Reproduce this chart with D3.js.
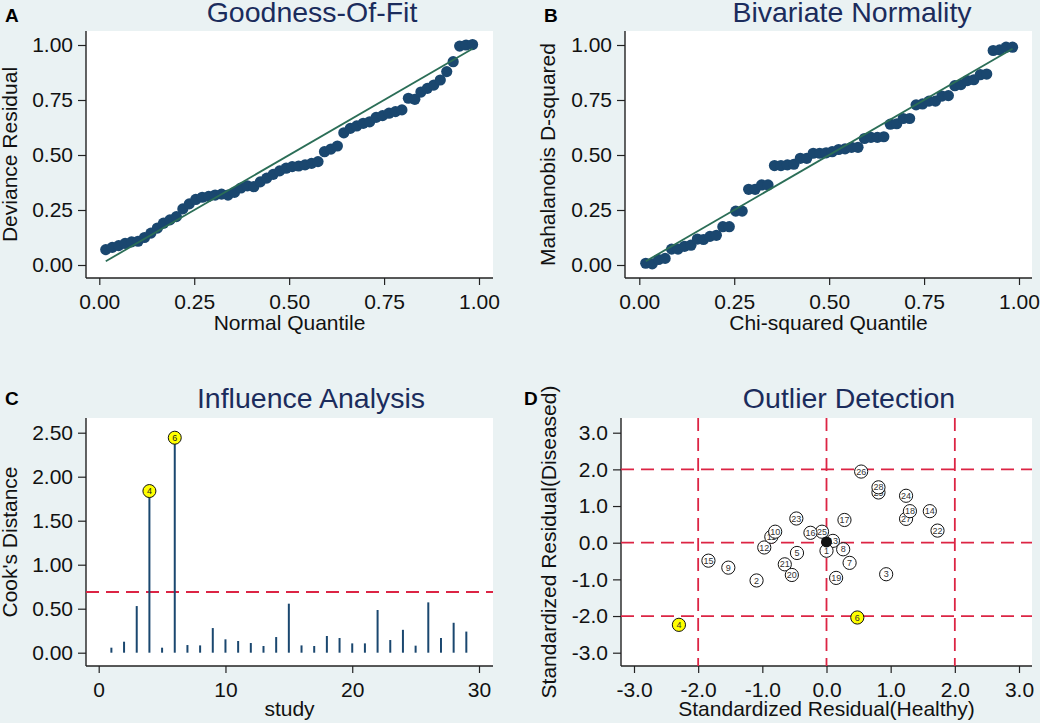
<!DOCTYPE html>
<html>
<head>
<meta charset="utf-8">
<script src="https://cdn.jsdelivr.net/npm/d3@7"></script>
<style>
  body { margin: 0; background: #eaf2f3; }
  svg { display: block; }
</style>
</head>
<body>
<script>
// ---- data ----
// plotting positions shared by panels A and B (58 residuals)
const quantiles = [0.017, 0.034, 0.051, 0.068, 0.085, 0.102, 0.119, 0.136, 0.153, 0.169,
  0.186, 0.203, 0.220, 0.237, 0.254, 0.271, 0.288, 0.305, 0.322, 0.339,
  0.356, 0.373, 0.390, 0.407, 0.424, 0.441, 0.458, 0.475, 0.492, 0.508,
  0.525, 0.542, 0.559, 0.576, 0.593, 0.610, 0.627, 0.644, 0.661, 0.678,
  0.695, 0.712, 0.729, 0.746, 0.763, 0.780, 0.797, 0.814, 0.831, 0.847,
  0.864, 0.881, 0.898, 0.915, 0.932, 0.949, 0.966, 0.983];
const devianceResidual = [0.070, 0.080, 0.088, 0.098, 0.105, 0.108, 0.125, 0.145, 0.168, 0.190,
  0.205, 0.220, 0.255, 0.278, 0.298, 0.308, 0.312, 0.318, 0.322, 0.318,
  0.330, 0.350, 0.360, 0.356, 0.378, 0.395, 0.412, 0.428, 0.440, 0.447,
  0.450, 0.455, 0.462, 0.470, 0.515, 0.527, 0.541, 0.601, 0.621, 0.632,
  0.644, 0.651, 0.671, 0.679, 0.690, 0.697, 0.705, 0.758, 0.753, 0.786,
  0.803, 0.818, 0.841, 0.879, 0.924, 0.995, 1.000, 1.002];
const mahalanobisD2 = [0.008, 0.005, 0.025, 0.030, 0.072, 0.072, 0.085, 0.090, 0.118, 0.116,
  0.130, 0.135, 0.174, 0.174, 0.245, 0.245, 0.344, 0.344, 0.364, 0.364,
  0.452, 0.452, 0.455, 0.458, 0.485, 0.485, 0.508, 0.508, 0.510, 0.515,
  0.525, 0.528, 0.535, 0.535, 0.575, 0.580, 0.580, 0.583, 0.640, 0.642,
  0.666, 0.666, 0.728, 0.732, 0.745, 0.745, 0.768, 0.770, 0.815, 0.820,
  0.838, 0.842, 0.865, 0.868, 0.975, 0.978, 0.990, 0.990];
const fitEnds = [0.017, 0.983];

const studies = [1, 2, 3, 4, 5, 6, 7, 8, 9, 10, 11, 12, 13, 14, 15, 16, 17, 18, 19, 20,
  21, 22, 23, 24, 25, 26, 27, 28, 29];
const cooksDistance = [0.057, 0.125, 0.530, 1.837, 0.057, 2.443, 0.087, 0.083, 0.280, 0.152,
  0.133, 0.110, 0.076, 0.178, 0.557, 0.083, 0.076, 0.190, 0.167, 0.106,
  0.106, 0.485, 0.144, 0.260, 0.080, 0.572, 0.167, 0.340, 0.240];
const cooksCut = 0.69;
const flagged = [4, 6];

const resHealthy = [0.00, -1.09, 0.93, -2.30, -0.46, 0.48, 0.36, 0.26, -1.53, -0.80,
  -0.86, -0.97, 0.10, 1.61, -1.84, -0.25, 0.28, 1.30, 0.15, -0.54,
  -0.65, 1.73, -0.47, 1.24, -0.07, 0.54, 1.24, 0.81, 0.81];
const resDiseased = [-0.22, -1.03, -0.86, -2.24, -0.28, -2.04, -0.55, -0.18, -0.68, 0.30,
  0.16, -0.13, 0.05, 0.86, -0.49, 0.27, 0.62, 0.86, -0.96, -0.88,
  -0.59, 0.33, 0.66, 1.28, 0.30, 1.94, 0.65, 1.51, 1.37];
const centre = [0.0, 0.02];
const refLines = [-2, 0, 2];

const ticksQ = [0, 0.25, 0.5, 0.75, 1];
const ticksStudy = [0, 10, 20, 30];
const ticksCook = [0, 0.5, 1, 1.5, 2, 2.5];
const ticksRes = [-3, -2, -1, 0, 1, 2, 3];

// ---- look ----
const font = 'Arial, "Liberation Sans", sans-serif';
const navy = '#1a476f';
const fitGreen = '#2b6e57';
const red = '#dc2444';
const titleCol = '#1b2c5c';

const svg = d3.select('body').append('svg').attr('width', 1040).attr('height', 723);
svg.append('rect').attr('width', 1040).attr('height', 723).attr('fill', '#eaf2f3');

// plot box + axes in Stata style (axis lines run the whole box edge)
function frame(box, x, y, xt, yt, xf, yf) {
  svg.append('rect').attr('x', box.l).attr('y', box.t)
     .attr('width', box.r - box.l).attr('height', box.b - box.t).attr('fill', '#fff');
  const ya = svg.append('g').attr('transform', `translate(${box.l},0)`)
     .call(d3.axisLeft(y).tickValues(yt).tickFormat(yf).tickSize(8).tickPadding(5));
  const xa = svg.append('g').attr('transform', `translate(0,${box.b})`)
     .call(d3.axisBottom(x).tickValues(xt).tickFormat(xf).tickSize(7).tickPadding(9));
  [ya, xa].forEach(a => {
    a.select('.domain').remove();
    a.attr('font-family', font).attr('font-size', 21);
    a.selectAll('text').attr('fill', '#111');
    a.selectAll('line').attr('stroke', '#222').attr('stroke-width', 1.2);
  });
  svg.append('line').attr('x1', box.l).attr('x2', box.l).attr('y1', box.t).attr('y2', box.b)
     .attr('stroke', '#222').attr('stroke-width', 1.4);
  svg.append('line').attr('x1', box.l).attr('x2', box.r).attr('y1', box.b).attr('y2', box.b)
     .attr('stroke', '#222').attr('stroke-width', 1.4);
}

function labels(letter, lx, ly, title, tx, ty, xTitle, xx, xy, yTitle, yx, yy) {
  svg.append('text').attr('x', lx).attr('y', ly).text(letter)
     .attr('font-family', font).attr('font-weight', 'bold').attr('font-size', 19).attr('fill', '#000');
  svg.append('text').attr('x', tx).attr('y', ty).text(title).attr('text-anchor', 'middle')
     .attr('font-family', font).attr('font-size', 28.5).attr('fill', titleCol);
  svg.append('text').attr('x', xx).attr('y', xy).text(xTitle).attr('text-anchor', 'middle')
     .attr('font-family', font).attr('font-size', 21).attr('fill', '#111');
  svg.append('text').attr('transform', `translate(${yx},${yy}) rotate(-90)`).text(yTitle)
     .attr('text-anchor', 'middle').attr('font-family', font).attr('font-size', 21).attr('fill', '#111');
}

// Stata prints a plain hyphen for negatives
const f2 = d => d3.format('.2f')(d).replace('\u2212', '-');
const f1 = d => d3.format('.1f')(d).replace('\u2212', '-');

// ---- A and B: quantile plots ----
function qqPanel(box, x0, x1, values, letter, title, tx, xTitle, yTitle, yTitleX) {
  const x = d3.scaleLinear().domain([0, 1]).range([x0, x1]);
  const y = d3.scaleLinear().domain([0, 1]).range([265, 45]);
  frame(box, x, y, ticksQ, ticksQ, f2, f2);
  svg.append('g').selectAll('circle').data(values).join('circle')
     .attr('cx', (d, i) => x(quantiles[i])).attr('cy', d => y(d)).attr('r', 5.6)
     .attr('fill', navy);
  svg.append('line').attr('x1', x(fitEnds[0])).attr('y1', y(fitEnds[0]))
     .attr('x2', x(fitEnds[1])).attr('y2', y(fitEnds[1]))
     .attr('stroke', fitGreen).attr('stroke-width', 1.8);
  labels(letter, box.l - 81, 22, title, tx, 22,
         xTitle, (box.l + box.r) / 2, 330, yTitle, yTitleX, (box.t + box.b) / 2);
}

qqPanel({l: 86, r: 493, t: 31, b: 278}, 99.3, 479, devianceResidual,
        'A', 'Goodness-Of-Fit', 312, 'Normal Quantile', 'Deviance Residual', 17);
qqPanel({l: 625, r: 1032, t: 31, b: 278}, 639.3, 1019, mahalanobisD2,
        'B', 'Bivariate Normality', 852, 'Chi-squared Quantile', 'Mahalanobis D-squared', 555);

// ---- C: Influence analysis ----
{
  const box = {l: 86, r: 493, t: 418, b: 666};
  const x = d3.scaleLinear().domain([0, 30]).range([98.7, 479]);
  const y = d3.scaleLinear().domain([0, 2.5]).range([652.7, 432.7]);
  frame(box, x, y, ticksStudy, ticksCook, d3.format('d'), f2);
  svg.append('line').attr('x1', box.l).attr('x2', box.r).attr('y1', y(cooksCut)).attr('y2', y(cooksCut))
     .attr('stroke', red).attr('stroke-width', 1.8).attr('stroke-dasharray', '13,7');
  svg.append('g').selectAll('line').data(studies).join('line')
     .attr('x1', d => x(d)).attr('x2', d => x(d))
     .attr('y1', y(0)).attr('y2', (d, i) => y(cooksDistance[i]))
     .attr('stroke', navy).attr('stroke-width', 2);
  const big = svg.append('g').selectAll('g').data(flagged).join('g')
     .attr('transform', d => `translate(${x(d)},${y(cooksDistance[d - 1])})`);
  big.append('circle').attr('r', 6.5).attr('fill', '#ffff00').attr('stroke', '#111').attr('stroke-width', 1);
  big.append('text').text(d => d).attr('text-anchor', 'middle').attr('dy', '0.35em')
     .attr('font-family', font).attr('font-size', 9).attr('fill', '#222');
  labels('C', 5, 405, 'Influence Analysis', 311, 408, 'study', (box.l + box.r) / 2, 716,
         "Cook's Distance", 17, (box.t + box.b) / 2);
}

// ---- D: Outlier detection ----
{
  const box = {l: 621, r: 1032, t: 418, b: 666};
  const x = d3.scaleLinear().domain([-3, 3]).range([634, 1019]);
  const y = d3.scaleLinear().domain([-3, 3]).range([652.7, 432.7]);
  frame(box, x, y, ticksRes, ticksRes, f1, f1);
  svg.append('g').selectAll('line').data(refLines).join('line')
     .attr('x1', box.l).attr('x2', box.r).attr('y1', d => y(d)).attr('y2', d => y(d))
     .attr('stroke', red).attr('stroke-width', 1.8).attr('stroke-dasharray', '13,7');
  svg.append('g').selectAll('line').data(refLines).join('line')
     .attr('y1', box.t).attr('y2', box.b).attr('x1', d => x(d)).attr('x2', d => x(d))
     .attr('stroke', red).attr('stroke-width', 1.8).attr('stroke-dasharray', '13,7');
  // drawn from last study to first, as in the picture (lower numbers on top)
  const order = studies.slice().reverse();
  const pts = svg.append('g').selectAll('g').data(order).join('g')
     .attr('transform', d => `translate(${x(resHealthy[d - 1])},${y(resDiseased[d - 1])})`);
  pts.append('circle').attr('r', 6.6)
     .attr('fill', d => flagged.includes(d) ? '#ffff00' : '#fff')
     .attr('stroke', '#111').attr('stroke-width', 1);
  pts.append('text').text(d => d).attr('text-anchor', 'middle').attr('dy', '0.35em')
     .attr('font-family', font).attr('font-size', 9).attr('fill', '#333');
  svg.append('circle').attr('cx', x(centre[0])).attr('cy', y(centre[1])).attr('r', 5.5)
     .attr('fill', '#111');
  labels('D', 524, 405, 'Outlier Detection', 849, 408, 'Standardized Residual(Healthy)',
         (box.l + box.r) / 2, 716, 'Standardized Residual(Diseased)', 556, (box.t + box.b) / 2);
}
</script>
</body>
</html>
